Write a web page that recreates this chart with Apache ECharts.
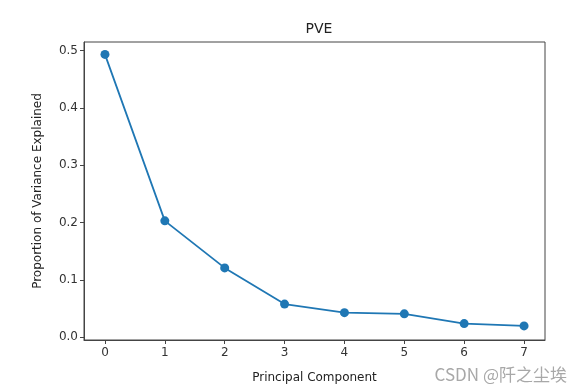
<!DOCTYPE html>
<html>
<head>
<meta charset="utf-8">
<script src="https://cdn.jsdelivr.net/npm/echarts@6/dist/echarts.min.js"></script>
<style>html,body{margin:0;padding:0;background:#fff}#c{width:584px;height:390px}</style>
</head>
<body>
<div id="c"></div>
<script>
const components = [0, 1, 2, 3, 4, 5, 6, 7];
const pve = [0.493, 0.203, 0.121, 0.058, 0.043, 0.041, 0.024, 0.020];
const xTicks = [0, 1, 2, 3, 4, 5, 6, 7];
const yTicks = [0.0, 0.1, 0.2, 0.3, 0.4, 0.5];

const font = 'DejaVu Sans';
const chart = echarts.init(document.getElementById('c'), null, {renderer: 'canvas'});
chart.setOption({
  animation: false,
  backgroundColor: '#fff',
  title: {
    text: 'PVE', left: 314, top: 17, textAlign: 'center',
    textStyle: {fontFamily: font, fontSize: 14, fontWeight: 'normal', color: '#222'}
  },
  grid: {left: 84, top: 42, right: 39, bottom: 50, show: true, borderColor: '#444', borderWidth: 1, backgroundColor: 'transparent'},
  xAxis: {
    type: 'value', min: -0.35, max: 7.35,
    name: 'Principal Component', nameLocation: 'middle', nameGap: 32,
    nameTextStyle: {fontFamily: font, fontSize: 12, color: '#222'},
    axisLine: {show: true, onZero: false, lineStyle: {color: '#444', width: 1}},
    axisTick: {show: true, length: 4, customValues: xTicks, lineStyle: {color: '#444'}},
    axisLabel: {customValues: xTicks, fontFamily: font, fontSize: 12, color: '#333', margin: 7},
    splitLine: {show: false}
  },
  yAxis: {
    type: 'value', min: -0.0046, max: 0.5146,
    name: 'Proportion of Variance Explained', nameLocation: 'middle', nameGap: 40,
    nameTextStyle: {fontFamily: font, fontSize: 12, color: '#222'},
    axisLine: {show: true, onZero: false, lineStyle: {color: '#444', width: 1}},
    axisTick: {show: true, length: 4, customValues: yTicks, lineStyle: {color: '#444'}},
    axisLabel: {customValues: yTicks, fontFamily: font, fontSize: 12, color: '#333', margin: 6,
      formatter: v => v.toFixed(1)},
    splitLine: {show: false}
  },
  graphic: [{
    type: 'text', right: 17, bottom: 7,
    style: {text: 'CSDN @阡之尘埃', font: '17px "Noto Sans CJK SC", sans-serif', fill: '#a8a8a8'}
  }],
  series: [{
    type: 'line',
    data: components.map((c, i) => [c, pve[i]]),
    symbol: 'circle', symbolSize: 9,
    lineStyle: {color: '#1f77b4', width: 1.8},
    itemStyle: {color: '#1f77b4'}
  }]
});
</script>
</body>
</html>
